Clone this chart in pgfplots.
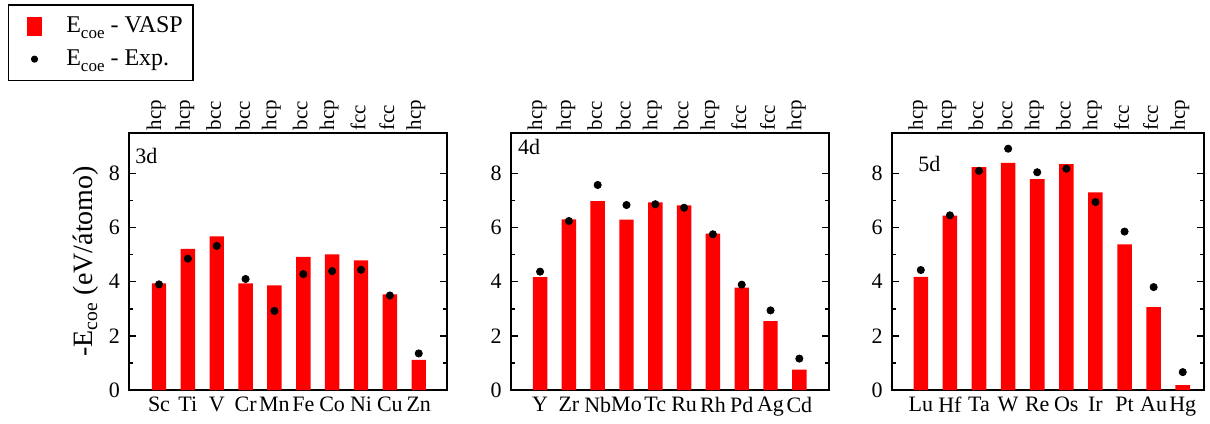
\documentclass[border=0pt]{standalone}
\usepackage{pgfplots}
\pgfplotsset{compat=1.18}
\usepackage{fontspec}
\setmainfont{Liberation Serif}

\pgfplotsset{
  panel/.style={
    scale only axis, anchor=south west, height=128.65pt,
    ymin=0, ymax=9.5, ytick={0,2,4,6,8}, minor y tick num=1,
    xtick={0,...,9},
    x tick style={draw=none},
    tick align=inside,
    major tick length=3.5pt, minor tick length=2pt,
    every tick/.style={black, line width=0.8pt},
    axis line style={line width=0.8pt},
    /pgf/number format/assume math mode=true,
    ticklabel style={font=\fontsize{11}{13}\selectfont},
    yticklabel style={xshift=-1pt},
  },
  toplab/.style={
    scale only axis, anchor=south west, height=128.65pt,
    ymin=0, ymax=9.5, ytick=\empty, xtick={0,...,9},
    xticklabel pos=upper, major tick length=0pt,
    axis line style={draw=none}, x tick style={draw=none},
    xticklabels={hcp,hcp,bcc,bcc,hcp,bcc,hcp,fcc,fcc,hcp},
    xticklabel style={rotate=90, anchor=west, inner sep=1pt, yshift=1.5pt,
      font=\fontsize{10.5}{12}\selectfont},
  },
  bars/.style={ybar, bar width=0.5, fill=red, draw=none},
  dots/.style={only marks, mark=*, mark size=1.8pt, black},
}
\newcommand{\coe}{\raisebox{-0.55ex}{\fontsize{8.5}{9}\selectfont coe}}

\begin{document}
\begin{tikzpicture}
\path[use as bounding box] (0,0) rectangle (605pt,211.5pt);

% ---------- 3d ----------
\begin{axis}[panel, at={(64.5pt,16.5pt)}, width=159pt, xmin=-1.04, xmax=9.98,
  xticklabels={Sc,Ti,V,Cr,Mn,Fe,Co,Ni,Cu,Zn},
  ylabel={-E\textsubscript{coe} (eV/átomo)},
  ylabel style={at={(axis description cs:-0.135,0.5)}, anchor=center, rotate=0,
    font=\fontsize{14}{16}\selectfont},
  legend style={at={(-0.382,1.50)}, anchor=north west, draw=black, line width=0.8pt,
    font=\fontsize{12}{13}\selectfont, inner xsep=3pt, inner ysep=4pt,
    row sep=3pt, /tikz/every odd column/.append style={column sep=4pt}},
  legend cell align=left,
]
\addplot[bars, legend image code/.code={
   \path[draw=none, fill=none] (0pt,0pt) -- (20pt,0pt);
   \fill[red, draw=none] (6.5pt,-4.75pt) rectangle (13.7pt,4.75pt);}]
 coordinates {(0,3.94) (1,5.21) (2,5.67) (3,3.94) (4,3.86) (5,4.92) (6,5.01) (7,4.79) (8,3.53) (9,1.11)};
\addlegendentry{E\coe{} - VASP}
\addplot[dots, legend image code/.code={
   \path[draw=none, fill=none] (0pt,0pt) -- (20pt,0pt);
   \fill[black, draw=none] (10.1pt,0pt) circle (1.8pt);}]
 coordinates {(0,3.90) (1,4.85) (2,5.32) (3,4.10) (4,2.92) (5,4.28) (6,4.39) (7,4.44) (8,3.49) (9,1.35)};
\addlegendentry{E\coe{} - Exp.}
\node[anchor=north west, inner sep=0pt, font=\fontsize{11}{13}\selectfont] at (rel axis cs:0.019,0.94) {3d};
\end{axis}
\begin{axis}[toplab, at={(64.5pt,16.5pt)}, width=159pt, xmin=-1.04, xmax=9.98]
\end{axis}

% ---------- 4d ----------
\begin{axis}[panel, at={(255.35pt,16.5pt)}, width=159.15pt, xmin=-1.02, xmax=10.03,
  xticklabels={Y,Zr,Nb,Mo,Tc,Ru,Rh,Pd,Ag,Cd}]
\addplot[bars] coordinates {(0,4.17) (1,6.30) (2,6.97) (3,6.29) (4,6.93) (5,6.82) (6,5.77) (7,3.78) (8,2.54) (9,0.75)};
\addplot[dots] coordinates {(0,4.37) (1,6.24) (2,7.57) (3,6.83) (4,6.86) (5,6.73) (6,5.75) (7,3.89) (8,2.94) (9,1.16)};
\node[anchor=north west, inner sep=0pt, font=\fontsize{11}{13}\selectfont] at (rel axis cs:0.022,0.975) {4d};
\end{axis}
\begin{axis}[toplab, at={(255.35pt,16.5pt)}, width=159.15pt, xmin=-1.02, xmax=10.03]
\end{axis}

% ---------- 5d ----------
\begin{axis}[panel, at={(445.85pt,16.5pt)}, width=156.15pt, xmin=-1.0, xmax=9.73,
  xticklabels={Lu,Hf,Ta,W,Re,Os,Ir,Pt,Au,Hg}]
\addplot[bars] coordinates {(0,4.18) (1,6.44) (2,8.23) (3,8.39) (4,7.79) (5,8.34) (6,7.30) (7,5.38) (8,3.06) (9,0.18)};
\addplot[dots] coordinates {(0,4.43) (1,6.45) (2,8.09) (3,8.91) (4,8.04) (5,8.17) (6,6.94) (7,5.85) (8,3.80) (9,0.66)};
\node[anchor=north west, inner sep=0pt, font=\fontsize{11}{13}\selectfont] at (rel axis cs:0.084,0.91) {5d};
\end{axis}
\begin{axis}[toplab, at={(445.85pt,16.5pt)}, width=156.15pt, xmin=-1.0, xmax=9.73]
\end{axis}
\end{tikzpicture}
\end{document}
